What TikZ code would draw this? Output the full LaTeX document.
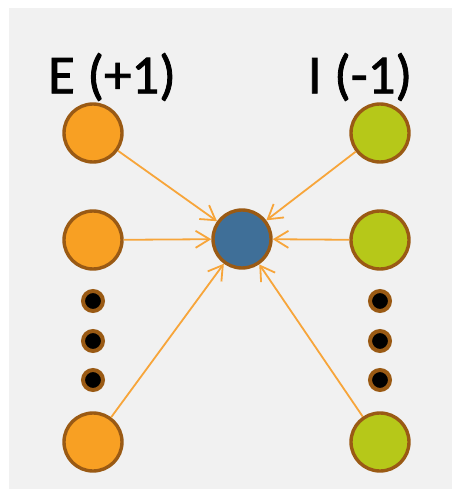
\documentclass[tikz,border=0pt]{standalone}
\usepackage{fontspec}
\setmainfont{Carlito}
\usetikzlibrary{arrows.meta}
\definecolor{bg}{HTML}{F1F1F1}
\definecolor{ringc}{HTML}{9A5A14}
\definecolor{orangef}{HTML}{F8A023}
\definecolor{greenf}{HTML}{B6C819}
\definecolor{bluef}{HTML}{3F6F98}
\definecolor{arrc}{HTML}{F7A53A}
\tikzset{
  unitnode/.style={circle,draw=ringc,line width=3.4pt,minimum size=58pt,inner sep=0pt},
  excnode/.style={unitnode,fill=orangef},
  inhnode/.style={unitnode,fill=greenf},
  outnode/.style={unitnode,fill=bluef},
  dotnode/.style={circle,fill=black,draw=ringc,line width=4pt,minimum size=20pt,inner sep=0pt},
  synarrow/.style={draw=arrc,line width=1.8pt,-{Straight Barb[length=14pt,width=17pt,line width=1.8pt]}},
  labnode/.style={font=\fontsize{55}{57}\selectfont,text=black,inner sep=0pt}
}
\begin{document}
\begin{tikzpicture}[x=1pt,y=-1pt]
\useasboundingbox (0,0) rectangle (452,489);
\fill[bg] (9,8) rectangle (452,489);
\node[labnode] (le) at (112,77) {\addfontfeature{FakeBold=1.5}E (+1)};
\node[labnode] (li) at (360,77) {\addfontfeature{FakeBold=1.5}I (-1)};
\node[excnode] (e1) at (93,133) {};
\node[excnode] (e2) at (93,240) {};
\node[excnode] (e3) at (93,442) {};
\node[inhnode] (i1) at (380,133) {};
\node[inhnode] (i2) at (380,240) {};
\node[inhnode] (i3) at (380,442) {};
\node[dotnode] (ed1) at (93,301) {};
\node[dotnode] (ed2) at (93,341) {};
\node[dotnode] (ed3) at (93,380) {};
\node[dotnode] (id1) at (380,301) {};
\node[dotnode] (id2) at (380,341) {};
\node[dotnode] (id3) at (380,380) {};
\node[outnode] (o) at (242,239) {};
\foreach \n in {e1,e2,e3,i1,i2,i3} \draw[synarrow] (\n) -- (o);
\end{tikzpicture}
\end{document}
